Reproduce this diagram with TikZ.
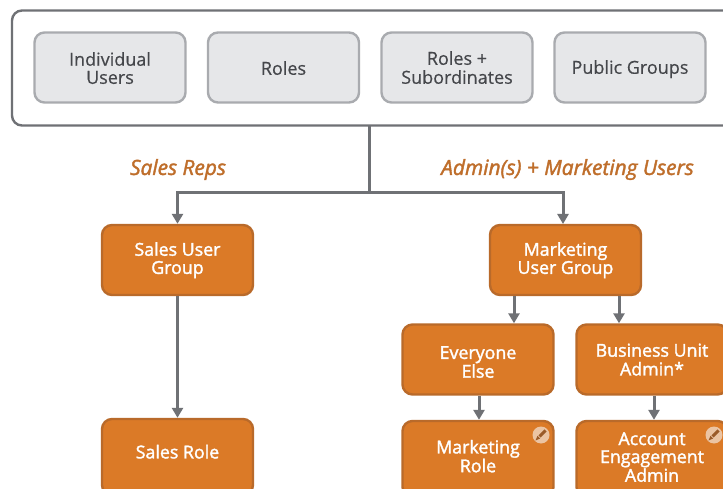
\documentclass[tikz,border=0pt]{standalone}
\usepackage{fontspec}
\setmainfont{Open Sans}
\newfontfamily\semifont[FakeBold=1.8]{Open Sans}
\newfontfamily\greyfont[FakeBold=0.4]{Open Sans}
\usetikzlibrary{arrows.meta,calc}
\definecolor{lineg}{HTML}{6F7175}
\definecolor{greyfill}{HTML}{E6E7E9}
\definecolor{greyedge}{HTML}{A9ABAF}
\definecolor{txtg}{HTML}{45474B}
\definecolor{orfill}{HTML}{DB7A27}
\definecolor{oredge}{HTML}{B96A2A}
\definecolor{lab}{HTML}{BF6E2B}
\definecolor{badge}{HTML}{EBC4A3}
\definecolor{pen}{HTML}{9A5A28}
\newcommand{\boxtext}[2]{\raisebox{\dimexpr #1-4.4pt\relax}[0pt][0pt]{\begin{tabular}{@{}c@{}}#2\end{tabular}}}
\tikzset{
  outerbox/.style={draw=lineg,line width=2.4pt,fill=white,rounded corners=10pt,inner sep=0pt},
  greybox/.style={draw=greyedge,line width=2.4pt,fill=greyfill,rounded corners=10pt,inner sep=0pt,
    minimum width=151pt,minimum height=70pt,text=txtg,font=\greyfont\fontsize{18}{17.5}\selectfont},
  orangebox/.style={draw=oredge,line width=2.4pt,fill=orfill,rounded corners=10pt,inner sep=0pt,
    minimum width=151pt,text=white,font=\semifont\fontsize{17.8}{17.5}\selectfont},
  grouplabel/.style={text=lab,font=\semifont\itshape\fontsize{20.9}{20}\selectfont,inner sep=0pt},
  link/.style={draw=lineg,line width=3pt},
  arrowlink/.style={link,-{Triangle[length=10pt,width=11pt]}},
  badgedot/.style={circle,fill=badge,minimum size=17pt,inner sep=0pt},
}
\newcommand{\pencil}[1]{%
  \draw[pen,line width=3pt] ($(#1)+(-1.5,1.5)$) -- ($(#1)+(4.5,-4.5)$);
  \fill[pen] ($(#1)+(-5.5,5.5)$) -- ($(#1)+(-3.5,0.9)$) -- ($(#1)+(-0.9,3.5)$) -- cycle;}
\begin{document}
\begin{tikzpicture}[x=1pt,y=-1pt]
\clip (0,0) rectangle (723,489);
\fill[white] (0,0) rectangle (723,489);
\node[outerbox,minimum width=722pt,minimum height=115pt] (top) at (373,68) {};
\node[greybox] (users) at (110,67.5) {\boxtext{-3pt}{Individual\\Users}};
\node[greybox] (roles) at (283.5,67.5) {\boxtext{-3pt}{Roles}};
\node[greybox] (subs) at (457,67.5) {\boxtext{-2.5pt}{Roles +\\Subordinates}};
\node[greybox] (groups) at (630,67.5) {\boxtext{-2pt}{Public Groups}};
\node[grouplabel] (l1) at (178,169.5) {Sales Reps};
\node[grouplabel] (l2) at (567.5,169.5) {Admin(s) + Marketing Users};
\node[orangebox,minimum height=70pt] (sug) at (177.5,260) {\boxtext{-0.6pt}{Sales User\\Group}};
\node[orangebox,minimum height=70pt] (mug) at (565.5,260) {\boxtext{-0.6pt}{Marketing\\User Group}};
\node[orangebox,minimum height=70pt] (else) at (478,359.5) {\boxtext{-5pt}{Everyone\\Else}};
\node[orangebox,minimum height=70pt] (bu) at (652,359.5) {\boxtext{-2.6pt}{Business Unit\\Admin*}};
\node[orangebox,minimum height=76pt] (srole) at (177.5,457) {\boxtext{2.8pt}{Sales Role}};
\node[orangebox,minimum height=76pt] (mrole) at (478,459) {\boxtext{0.4pt}{Marketing\\Role}};
\node[orangebox,minimum height=76pt] (aea) at (652,459) {\boxtext{-0.6pt}{Account\\Engagement\\Admin}};
\node[badgedot] (b1) at (541,435) {};
\node[badgedot] (b2) at (714,435) {};
\pencil{b1}
\pencil{b2}
\coordinate (trunktop) at (369,126);
\coordinate (junction) at (369,192.5);
\draw[link] (trunktop) -- (junction);
\draw[arrowlink] (junction) -| (sug.north);
\draw[arrowlink] (junction) -| (563,224) coordinate (mugin);
\draw[arrowlink] (mug.south -| 514,0) -- (else.north -| 514,0);
\draw[arrowlink] (mug.south -| 619,0) -- (bu.north -| 619,0);
\draw[arrowlink] (sug.south) -- (srole.north);
\draw[arrowlink] (else.south -| 479,0) -- (mrole.north -| 479,0);
\draw[arrowlink] (bu.south -| 654,0) -- (aea.north -| 654,0);
\end{tikzpicture}
\end{document}
